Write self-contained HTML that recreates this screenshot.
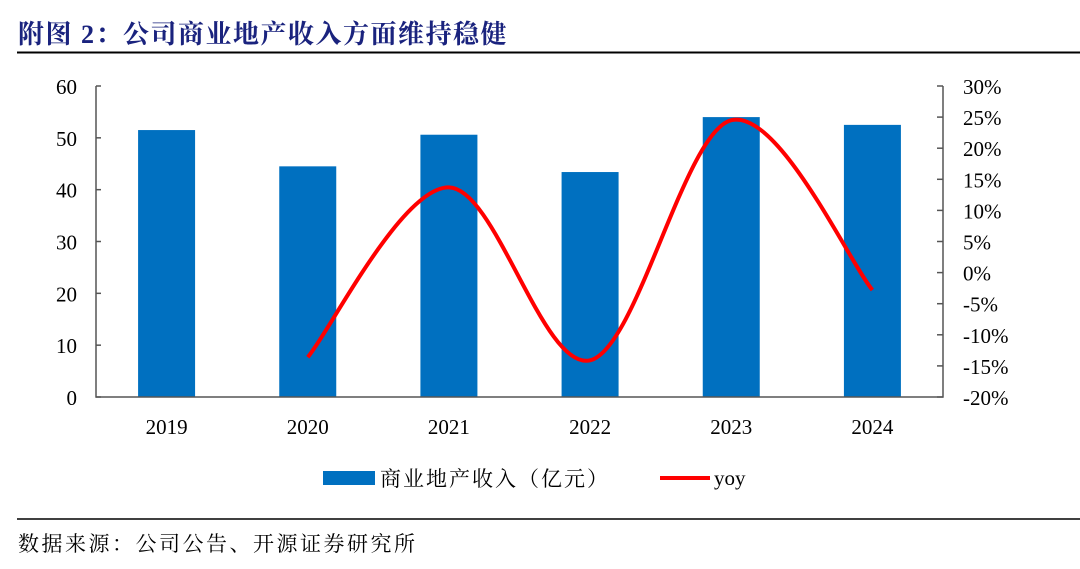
<!DOCTYPE html>
<html><head><meta charset="utf-8"><style>
body{margin:0;width:1080px;height:564px;background:#fff;overflow:hidden;font-family:"Liberation Serif","Noto Serif CJK SC",serif;}
</style></head><body>
<svg width="1080" height="564" xmlns="http://www.w3.org/2000/svg">
<text x="18" y="43" font-size="26" font-weight="bold" fill="#1a237e" letter-spacing="1.5" font-family="Liberation Serif,Noto Serif CJK SC,serif">附图 2：公司商业地产收入方面维持稳健</text>
<line x1="17" y1="52.5" x2="1080" y2="52.5" stroke="#000" stroke-width="2"/>
<g id="plot"></g>
<g>
<rect x="323" y="471" width="52" height="14" fill="#0070c0"/>
<text x="380" y="486" font-size="21" letter-spacing="2" font-family="Liberation Serif,Noto Serif CJK SC,serif">商业地产收入（亿元）</text>
<line x1="660" y1="478" x2="710" y2="478" stroke="#ff0000" stroke-width="4"/>
<text x="714" y="485" font-size="21">yoy</text>
</g>
<line x1="17" y1="519" x2="1080" y2="519" stroke="#000" stroke-width="1.5"/>
<text x="18" y="551" font-size="21" letter-spacing="2.5" font-family="Liberation Serif,Noto Serif CJK SC,serif">数据来源：公司公告、开源证券研究所</text>
</svg>
<script>
const categories=["2019","2020","2021","2022","2023","2024"];
const revenue=[51.5,44.5,50.6,43.4,54.0,52.5];
const yoy=[null,-13.6,13.7,-14.1,24.5,-2.8];
const leftTicks=[0,10,20,30,40,50,60];
const rightTicks=[-20,-15,-10,-5,0,5,10,15,20,25,30];
const NS="http://www.w3.org/2000/svg";
const g=document.getElementById('plot');
const X0=96,X1=943,Y0=397,Y1=86;
const band=(X1-X0)/categories.length;
const xc=i=>X0+band*(i+0.5);
const yl=v=>Y0-(v-0)/60*(Y0-Y1);
const yr=v=>Y0-(v+20)/50*(Y0-Y1);
function mk(t,a){const e=document.createElementNS(NS,t);for(const k in a)e.setAttribute(k,a[k]);g.appendChild(e);return e;}
revenue.forEach((v,i)=>{const r=mk('rect',{x:xc(i)-28.5,y:yl(v),width:57,height:Y0-yl(v),fill:'#0070c0'});

});
let a=mk('path',{d:`M${X0} ${Y1}V${Y0}H${X1}V${Y1}`,fill:'none',stroke:'#555','stroke-width':1.5});


leftTicks.forEach(v=>{mk('line',{x1:X0,x2:X0+5,y1:yl(v),y2:yl(v),stroke:'#555','stroke-width':1.5});
const t=mk('text',{x:77,y:yl(v)+8,'font-size':21,'text-anchor':'end'});t.textContent=v;

});
rightTicks.forEach(v=>{mk('line',{x1:X1-6,x2:X1,y1:yr(v),y2:yr(v),stroke:'#555','stroke-width':1.5});
const t=mk('text',{x:963,y:yr(v)+8,'font-size':21});t.textContent=v+'%';

});
categories.forEach((c,i)=>{const t=mk('text',{x:xc(i),y:434,'font-size':21,'text-anchor':'middle'});t.textContent=c;

});
const pts=[];yoy.forEach((v,i)=>{if(v!==null)pts.push([xc(i),yr(v)]);});
let d=`M${pts[0][0]} ${pts[0][1]}`;const k=1/6;
for(let i=0;i<pts.length-1;i++){const p0=pts[Math.max(0,i-1)],p1=pts[i],p2=pts[i+1],p3=pts[Math.min(pts.length-1,i+2)];
d+=`C${p1[0]+(p2[0]-p0[0])*k} ${p1[1]+(p2[1]-p0[1])*k} ${p2[0]-(p3[0]-p1[0])*k} ${p2[1]-(p3[1]-p1[1])*k} ${p2[0]} ${p2[1]}`;}
const l=mk('path',{d:d,fill:'none',stroke:'#ff0000','stroke-width':4});


</script>
</body></html>
